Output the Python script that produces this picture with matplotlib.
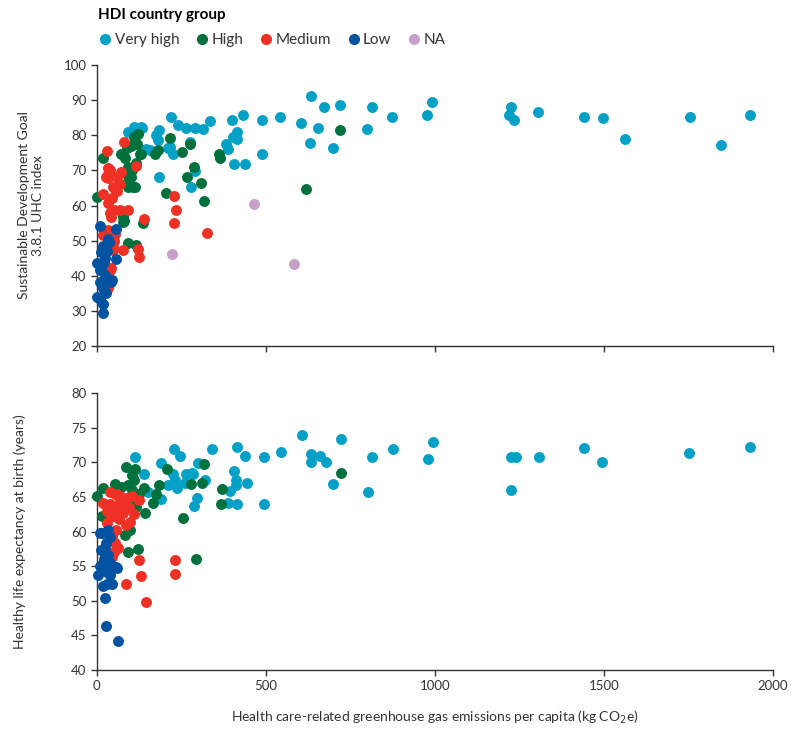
import matplotlib.pyplot as plt
from matplotlib.lines import Line2D

plt.rcParams['font.family'] = ['Lato', 'DejaVu Sans']

# --- renkler / groups ---
gruplar = ['Very high', 'High', 'Medium', 'Low', 'NA']
renkler = {'Very high': '#04a0c6', 'High': '#00703c', 'Medium': '#ee3124',
           'Low': '#0152a1', 'NA': '#c6a0c8'}

# --- top panel: UHC index vs emissions ---
uhc_vh_x = [635, 673, 719, 813, 874, 991, 977, 1225, 1219, 1235, 1305, 1441, 1497, 1563,
            1756, 1846, 1934, 604, 654, 631, 700, 799, 542, 489, 489, 433, 400, 415, 403,
            416, 381, 388, 405, 438, 334, 315, 291, 264, 240, 220, 276, 290, 280, 185, 175,
            180, 210, 225, 156, 145, 185, 135, 111, 131, 92, 216]
uhc_vh_y = [91.3, 88.0, 88.5, 88.0, 85.3, 89.4, 85.9, 88.0, 85.9, 84.4, 86.7, 85.3, 84.9, 79.0,
            85.3, 77.1, 85.8, 83.6, 82.1, 77.7, 76.3, 81.8, 85.3, 84.4, 74.6, 85.8, 84.4, 81.0, 79.6,
            78.8, 77.5, 76.2, 71.8, 71.8, 84.0, 81.7, 82.2, 82.0, 82.9, 85.1, 78.2, 69.9, 65.3, 81.5, 80.1,
            78.6, 76.3, 74.8, 75.8, 76.2, 68.2, 82.2, 82.4, 82.4, 81.0, 76.7]

uhc_h_x = [721, 620, 361, 364, 317, 308, 289, 268, 275, 251, 216, 205, 180, 171, 127, 121,
           111, 131, 72, 82, 18, 92, 88, 101, 107, 91, 112, 0, 77, 78, 136, 93, 115, 88,
           100, 115, 105, 95, 75, 80, 93, 118]
uhc_h_y = [81.4, 64.6, 74.6, 73.4, 61.4, 66.4, 70.9, 68.2, 77.5, 75.1, 79.1, 63.5, 75.8, 74.8, 74.6, 80.5,
           79.6, 74.8, 74.8, 73.4, 73.5, 71.0, 69.1, 68.2, 65.3, 65.3, 65.3, 62.5, 56.8, 55.4, 54.9, 49.2, 48.9, 76.3,
           77.0, 72.0, 70.0, 66.5, 58.0, 55.5, 67.0, 77.5]

uhc_m_x = [29, 81, 117, 33, 33, 28, 38, 72, 33, 47, 53, 19, 33, 38, 52, 68, 92, 42, 33, 19,
           48, 78, 122, 124, 140, 228, 233, 228, 325, 38, 33, 42, 33, 47, 60, 60, 45, 70, 55,
           50]
uhc_m_y = [75.6, 78.2, 71.3, 70.6, 69.0, 68.0, 70.1, 69.6, 67.7, 65.3, 64.8, 63.2, 60.6, 57.9, 58.7, 58.7, 58.7, 56.8, 53.0, 51.7,
           48.2, 47.3, 47.6, 45.4, 56.3, 62.7, 58.7, 55.1, 52.2, 41.6, 37.7, 42.1, 36.4, 47.3, 64.0, 68.0, 62.0, 66.0, 52.0,
           50.0]

uhc_l_x = [8, 56, 33, 19, 13, 57, 0, 13, 9, 23, 42, 44, 8, 18, 0, 18, 17, 15, 25, 30, 20,
           28, 10, 35]
uhc_l_y = [54.1, 53.3, 50.5, 48.5, 46.8, 44.8, 43.5, 42.1, 41.6, 40.2, 38.3, 38.7, 38.3, 36.4, 34.0, 32.1, 29.3, 38.2, 45.0, 47.0, 44.0,
           35.0, 33.5, 49.5]

uhc_na_x = [223, 466, 583]
uhc_na_y = [46.1, 60.5, 43.4]

# --- bottom panel: healthy life expectancy vs emissions ---
hale_vh_x = [606, 723, 635, 660, 635, 678, 700, 801, 815, 875, 994, 980, 1224, 1239, 1224,
             1307, 1440, 1495, 1753, 1932, 544, 494, 494, 439, 414, 405, 411, 411, 443, 393,
             388, 416, 341, 300, 283, 320, 295, 287, 228, 246, 112, 140, 191, 224, 265, 285,
             236, 211, 191, 152, 260, 230]
hale_vh_y = [73.9, 73.4, 71.2, 70.9, 70.0, 70.0, 66.9, 65.8, 70.8, 71.9, 73.0, 70.5, 70.8, 70.8, 66.0,
             70.8, 72.1, 70.0, 71.4, 72.3, 71.5, 70.8, 64.0, 71.0, 72.3, 68.8, 67.5, 66.7, 67.0, 65.9,
             64.2, 64.0, 71.9, 69.9, 68.5, 67.5, 64.8, 63.7, 72.0, 70.9, 70.8, 68.4, 69.9, 68.3, 68.4, 68.4,
             66.3, 66.7, 64.7, 65.8, 67.0, 67.5]

hale_h_x = [723, 85, 112, 103, 110, 53, 19, 0, 14, 73, 93, 103, 140, 115, 144, 167, 176, 184,
            208, 278, 311, 317, 369, 366, 255, 294, 97, 83, 93, 122, 107, 60, 125]
hale_h_y = [68.5, 69.4, 69.0, 68.2, 67.5, 66.9, 66.3, 65.2, 62.3, 66.5, 66.7, 66.0, 66.3, 63.6, 62.7, 64.2, 65.5, 66.8,
            69.0, 66.9, 67.1, 69.8, 66.2, 64.0, 62.0, 56.1, 60.2, 59.5, 57.1, 57.5, 64.7, 66.0, 65.5]

hale_m_x = [38, 68, 88, 124, 19, 38, 58, 78, 48, 29, 97, 58, 44, 53, 63, 44, 125, 130, 85,
            145, 231, 231, 60, 75, 40, 65, 30, 50, 40, 70, 95, 110, 55, 85, 105]
hale_m_y = [65.8, 65.1, 64.8, 64.6, 64.2, 64.0, 63.4, 62.7, 62.2, 61.2, 61.4, 60.3, 59.3, 58.3, 57.7, 56.4, 55.9, 53.6, 52.5,
            49.8, 55.9, 53.9, 65.5, 63.8, 62.5, 61.8, 63.0, 57.0, 54.5, 64.5, 63.5, 62.5, 65.5, 61.0, 65.2]

hale_l_x = [8, 33, 38, 28, 13, 24, 33, 18, 38, 57, 60, 3, 38, 29, 44, 18, 23, 26, 62, 14,
            20, 10, 30]
hale_l_y = [59.8, 60.2, 59.2, 58.3, 57.4, 57.8, 56.6, 55.4, 55.5, 54.9, 54.8, 53.7, 53.7, 54.1, 52.5, 52.1, 50.4, 46.3, 44.2, 59.8,
            56.0, 55.0, 52.5]

ust_veri = [(uhc_vh_x, uhc_vh_y), (uhc_h_x, uhc_h_y), (uhc_m_x, uhc_m_y),
            (uhc_l_x, uhc_l_y), (uhc_na_x, uhc_na_y)]
alt_veri = [(hale_vh_x, hale_vh_y), (hale_h_x, hale_h_y), (hale_m_x, hale_m_y),
            (hale_l_x, hale_l_y)]

fig = plt.figure(figsize=(8, 7.34), dpi=100)
ax1 = fig.add_axes([0.121, 0.5286, 0.845, 0.3828])
ax2 = fig.add_axes([0.121, 0.0872, 0.845, 0.377])

cizgi = '#333333'
for ax in (ax1, ax2):
    for s in ('top', 'right'):
        ax.spines[s].set_visible(False)
    for s in ('left', 'bottom'):
        ax.spines[s].set_color(cizgi)
        ax.spines[s].set_linewidth(1.0)
    ax.tick_params(colors=cizgi, labelcolor='#333333', labelsize=9.5, length=4, width=1.0)
    ax.set_xlim(0, 2000)
    ax.set_xticks([0, 500, 1000, 1500, 2000])

for (x, y), g in zip(ust_veri, gruplar):
    ax1.scatter(x, y, s=62, color=renkler[g], linewidths=0, zorder=3, clip_on=False)
for (x, y), g in zip(alt_veri, gruplar):
    ax2.scatter(x, y, s=62, color=renkler[g], linewidths=0, zorder=3, clip_on=False)

ax1.set_ylim(20, 100)
ax1.set_yticks(range(20, 101, 10))
ax1.tick_params(axis='x', labelbottom=False)
ax1.set_ylabel('Sustainable Development Goal\n3.8.1 UHC index', fontsize=10, color='#333333')
ax1.yaxis.set_label_coords(-0.078, 0.5)

ax2.set_ylim(40, 80)
ax2.set_yticks(range(40, 81, 5))
ax2.set_ylabel('Healthy life expectancy at birth (years)', fontsize=10, color='#333333')
ax2.yaxis.set_label_coords(-0.105, 0.5)
ax2.set_xlabel('Health care-related greenhouse gas emissions per capita (kg CO$_2$e)',
               fontsize=10, color='#333333', labelpad=12)

tutamaclar = [Line2D([], [], marker='o', linestyle='', markersize=8,
                     markerfacecolor=renkler[g], markeredgewidth=0, label=g) for g in gruplar]
leg = fig.legend(handles=tutamaclar, loc='upper left', bbox_to_anchor=(0.105, 1.008),
                 ncol=5, frameon=False, fontsize=11, title='HDI country group',
                 title_fontproperties={'weight': 'bold', 'size': 11},
                 alignment='left', handletextpad=0.1, columnspacing=1.0, handlelength=1.0)
leg._legend_box.sep = 8
for t in leg.get_texts():
    t.set_color('#333333')

plt.savefig('out.png', dpi=100)
